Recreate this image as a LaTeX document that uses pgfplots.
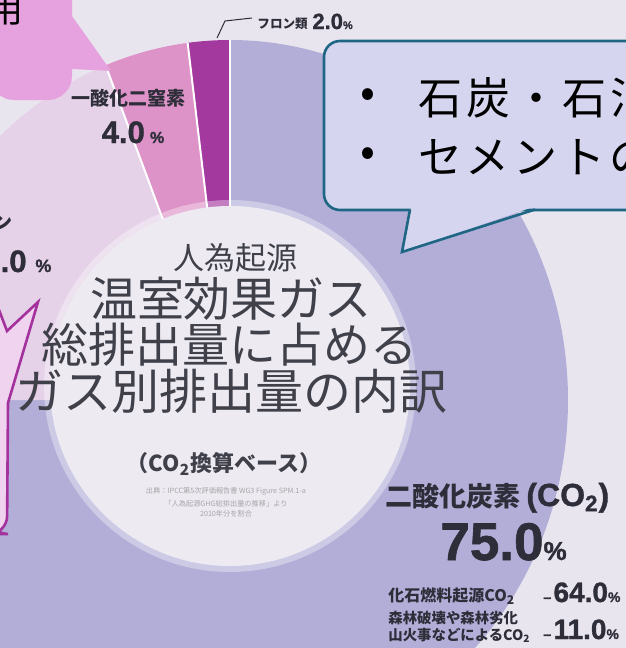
\documentclass[border=0pt]{standalone}
\usepackage{pgfplots}
\pgfplotsset{compat=1.18}
\usepackage{pgfplotstable}
\usepackage{fontspec}
\setmainfont{Noto Sans CJK JP}
\newfontfamily\numfont{Liberation Sans}[BoldFeatures={FakeBold=1.2}]
\newfontfamily\spacedfont{Noto Sans CJK JP}[LetterSpace=9]
\definecolor{bgc}{HTML}{E9E5EE}
\definecolor{co2c}{HTML}{B2AED8}
\definecolor{ch4c}{HTML}{E6D2E8}
\definecolor{n2oc}{HTML}{DE93C8}
\definecolor{fgc}{HTML}{A3389F}
\definecolor{innerc}{HTML}{EDEAF2}
\definecolor{txt}{HTML}{2E2E3A}
\definecolor{titletxt}{HTML}{40404A}
\definecolor{pinkbox}{HTML}{E6A2DF}
\definecolor{leftfill}{HTML}{F0D3EE}
\definecolor{leftdraw}{HTML}{A4329E}
\definecolor{rightfill}{HTML}{D5D5EF}
\definecolor{rightdraw}{HTML}{1E6684}
\newcommand\fs[1]{\fontsize{#1}{#1}\selectfont}

\pgfplotstableread{
gas value
CO2 75.0
CH4 19.0
N2O 4.0
F 2.0
}\gasdata

% sector of the donut: centre (230,400) px, outer ellipse radii 338 x 360 px
\newcommand\donutseg[3]{%
  \fill[#1, shift={(axis cs:230,400)}] (0,0) -- (#2:169pt and 180pt)
    arc[start angle=#2, end angle=#3, x radius=169pt, y radius=180pt] -- cycle;}
\newcommand\sepline[1]{%
  \draw[white, line width=1pt, shift={(axis cs:230,400)}] (0,0) -- (#1:169pt and 180pt);}

\begin{document}
\begin{tikzpicture}
\pgfplotstablegetelem{0}{value}\of\gasdata \let\vCO\pgfplotsretval
\pgfplotstablegetelem{1}{value}\of\gasdata \let\vCH\pgfplotsretval
\pgfplotstablegetelem{2}{value}\of\gasdata \let\vN\pgfplotsretval
\pgfplotstablegetelem{3}{value}\of\gasdata \let\vF\pgfplotsretval
\pgfmathsetmacro\aCO{90-3.6*\vCO}
\pgfmathsetmacro\aCH{\aCO-3.6*\vCH}
\pgfmathsetmacro\aN{\aCH-3.6*\vN}
\pgfmathsetmacro\aF{\aN-3.6*\vF}
\def\Ri{90pt}
\useasboundingbox (0,0) rectangle (313pt,324pt);
\begin{axis}[at={(0,0)}, anchor=south west, scale only axis,
  width=313pt, height=324pt, xmin=0, xmax=626, ymin=0, ymax=648,
  y dir=reverse, hide axis, clip=true]
\fill[bgc] (axis cs:-5,-5) rectangle (axis cs:631,653);
% donut
\donutseg{co2c}{90}{\aCO}
\donutseg{ch4c}{\aCO}{\aCH}
\donutseg{n2oc}{\aCH}{\aN}
\donutseg{fgc}{\aN}{\aF}
\sepline{90}
\sepline{\aCH}
\sepline{\aN}
\fill[white, opacity=0.35, shift={(axis cs:230,386)}] (0,0) circle[radius=93pt];
\fill[innerc, shift={(axis cs:230,386)}] (0,0) circle[radius=\Ri];
% centre title
\node[text=titletxt, font=\fs{15.5}] at (axis cs:235,258) {人為起源};
\node[text=titletxt, font=\fs{23.5}] at (axis cs:231,299) {温室効果ガス};
\node[text=titletxt, font=\fs{23.5}] at (axis cs:229,345) {総排出量に占める};
\node[text=titletxt, font=\fs{24}] at (axis cs:232,391) {ガス別排出量の内訳};
\node[text=titletxt, font=\fs{11}\bfseries] at (axis cs:224,464) {（CO\textsubscript{2}換算ベース）};
\node[text=gray!70, font=\fs{3.6}, align=center] at (axis cs:226,502)
  {出典：IPCC第5次評価報告書 WG3 Figure SPM.1-a\\[1.4pt]「人為起源GHG総排出量の推移」より\\[1.4pt]2010年分を割合};
% CO2 labels
\node[anchor=base west, inner sep=0pt, text=txt, font=\fs{13.5}\bfseries] at (axis cs:385,506)
  {二酸化炭素\hspace{3pt}{\numfont\fs{16}(CO\textsubscript{2})}};
\node[anchor=base west, inner sep=0pt, text=txt, font=\numfont\bfseries] at (axis cs:440,560)
  {\fs{26.5}75.0\fs{13}\%};
\node[anchor=base west, inner sep=0pt, text=txt, font=\fs{8}\bfseries] at (axis cs:388,601)
  {化石燃料起源CO\textsubscript{2}};
\node[anchor=base west, inner sep=0pt, text=txt, font=\numfont\bfseries] at (axis cs:543,602)
  {\fs{7}–\,\fs{14}64.0\fs{7}\%};
\node[anchor=base west, inner sep=0pt, text=txt, font=\fs{7.2}\bfseries] at (axis cs:388,623)
  {森林破壊や森林劣化};
\node[anchor=base west, inner sep=0pt, text=txt, font=\fs{7.2}\bfseries] at (axis cs:388,640)
  {山火事などによるCO\textsubscript{2}};
\node[anchor=base west, inner sep=0pt, text=txt, font=\numfont\bfseries] at (axis cs:543,639)
  {\fs{7}–\,\fs{14}11.0\fs{7}\%};
% N2O label
\node[text=txt, font=\fs{9.5}\bfseries] at (axis cs:128,98) {一酸化二窒素};
\node[anchor=base, inner sep=0pt, text=txt, font=\numfont\bfseries] at (axis cs:133,143)
  {\fs{15.5}4.0\,\fs{8}\%};
% CH4 label
\node[anchor=east, text=txt, font=\fs{9.5}\bfseries] at (axis cs:20,222) {メタン};
\node[anchor=base east, inner sep=0pt, text=txt, font=\numfont\bfseries\fs{15.5}] at (axis cs:27,272) {19.0};
\node[anchor=base west, inner sep=0pt, text=txt, font=\numfont\bfseries\fs{9}] at (axis cs:35,272) {\%};
% F-gas label
\draw[txt, line width=0.5pt] (axis cs:217,38) -- (axis cs:225,21) -- (axis cs:252,18);
\node[anchor=base west, inner sep=0pt, text=txt, font=\fs{6.3}\bfseries] at (axis cs:257,28) {フロン類};
\node[anchor=base west, inner sep=0pt, text=txt, font=\numfont\bfseries] at (axis cs:312,29)
  {\fs{11}2.0\fs{5.5}\%};
% top-left callout
\fill[pinkbox] (axis cs:-10,-10) -- (axis cs:72,-10) -- (axis cs:72,16) -- (axis cs:111,71)
  -- (axis cs:72,69) [rounded corners=12pt]-- (axis cs:72,100) -- (axis cs:-10,100) [sharp corners]-- cycle;
\node[anchor=east, text=black, font=\fs{18}] at (axis cs:31,9) {土地利用};
% left callout
\filldraw[fill=leftfill, draw=leftdraw, line width=1.3pt] (axis cs:-4,302) -- (axis cs:7,331)
  -- (axis cs:38,302) -- (axis cs:8,403) [rounded corners=9pt]-- (axis cs:7,534) -- (axis cs:-10,534)
  [sharp corners]-- (axis cs:-10,302) -- cycle;
% right callout
\filldraw[fill=rightfill, draw=rightdraw, line width=1.3pt, rounded corners=8pt]
  (axis cs:324,41) rectangle (axis cs:680,210);
\fill[rightfill] (axis cs:411,207) -- (axis cs:402,252) -- (axis cs:533,207) -- cycle;
\draw[rightdraw, line width=1.3pt, line join=miter] (axis cs:410,209.5) -- (axis cs:402,252) -- (axis cs:535,209.5);
\node[anchor=center, text=black, font=\fs{22}] at (axis cs:368,98) {•};
\node[anchor=center, text=black, font=\fs{22}] at (axis cs:368,157) {•};
\node[anchor=west, inner sep=0pt, text=black, font=\spacedfont\fs{22}] at (axis cs:418,98) {石炭・石油・天然ガスの燃焼};
\node[anchor=west, inner sep=0pt, text=black, font=\spacedfont\fs{22}] at (axis cs:418,157) {セメントの製造};
\end{axis}
\end{tikzpicture}
\end{document}
